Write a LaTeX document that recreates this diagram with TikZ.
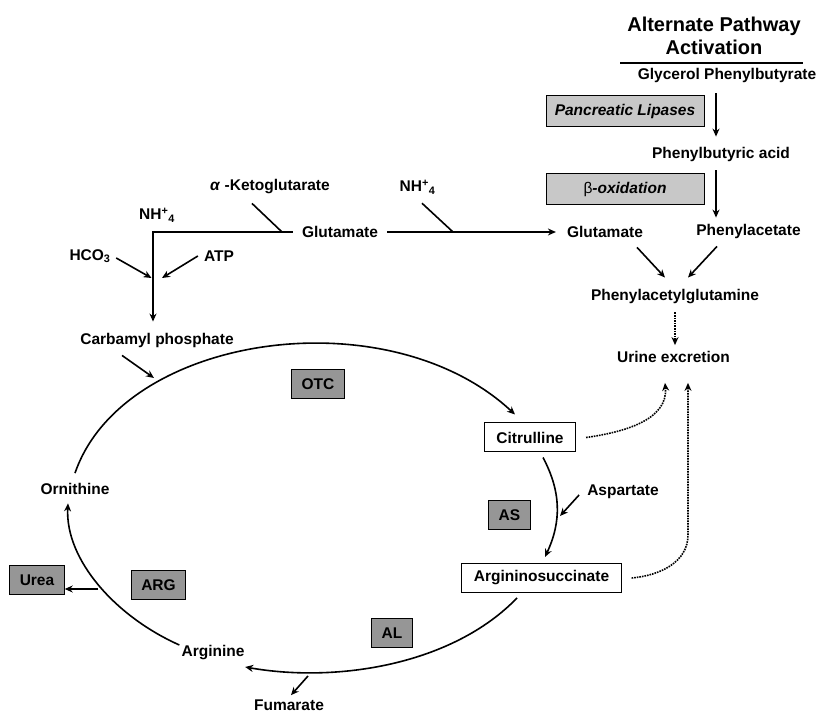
\documentclass[tikz,border=0pt]{standalone}
\usepackage{fontspec}
\setmainfont{Liberation Sans}
\usetikzlibrary{arrows.meta}
\definecolor{enzgray}{RGB}{150,150,150}
\definecolor{druggray}{RGB}{200,200,200}
\tikzset{
  metab/.style={inner sep=2pt},
  enzyme/.style={draw, fill=enzgray, line width=1pt, inner xsep=10pt, minimum height=29pt},
  product/.style={draw, fill=white, line width=1pt, inner xsep=12pt, minimum height=29pt},
  drug/.style={draw, fill=druggray, line width=1pt, minimum width=158pt, minimum height=31pt},
  flow/.style={->, line width=1.6pt},
  excr/.style={->, line width=1.6pt, densely dotted},
}

\begin{document}
\begin{tikzpicture}
[>={Stealth[length=8pt,width=7pt]}, x=1pt, y=1pt, every node/.style={font=\bfseries\fontsize{15.5}{18}\selectfont}]
\useasboundingbox (0,0) rectangle (819,715);
\node[align=center, font=\bfseries\fontsize{20}{23}\selectfont] (title) at (714,679) {Alternate Pathway\\Activation};
\draw[line width=1.5pt] (620,652) -- (803,652);
\node[metab] (glyc) at (727,640) {Glycerol Phenylbutyrate};
\node[drug] (lipase) at (625,603.5) {\textit{Pancreatic Lipases}};
\node[metab] (pba) at (721,561) {Phenylbutyric acid};
\node[drug] (betaox) at (625,525.5) {{\mdseries β}\textit{-oxidation}};
\node[metab] (pacet) at (748.5,484) {Phenylacetate};
\node[metab] (glu2) at (605,483) {Glutamate};
\node[metab] (pag) at (675,418) {Phenylacetylglutamine};
\node[metab] (urine) at (673.5,358) {Urine excretion};
\coordinate (axis) at (716,0);

\node[metab] (akg) at (270,528) {\textit{α} -Ketoglutarate};
\node[metab] (nh4a) at (157,500) {NH\textsuperscript{+}\textsubscript{4}};
\node[metab] (glu1) at (340,483) {Glutamate};
\node[metab] (nh4b) at (417.5,528) {NH\textsuperscript{+}\textsubscript{4}};
\node[metab] (hco3) at (90,459) {HCO\textsubscript{3}};
\node[metab] (atp) at (219,459) {ATP};
\node[metab] (carb) at (157,375) {Carbamyl phosphate};
\coordinate (corner) at (153,483);
\coordinate (akgjoin) at (282,483);
\coordinate (nhjoin) at (453,483);
\coordinate (feed) at (153,437);

\node[enzyme] (otc) at (318,331) {OTC};
\node[product] (cit) at (530,277.5) {Citrulline};
\node[enzyme] (as) at (509.5,200) {AS};
\node[metab] (asp) at (623,223) {Aspartate};
\node[product] (args) at (541.5,137) {Argininosuccinate};
\node[enzyme] (al) at (392,82) {AL};
\node[metab] (arg) at (213,62) {Arginine};
\node[metab] (fum) at (289,10) {Fumarate};
\node[enzyme] (argase) at (158.5,130) {ARG};
\node[enzyme] (urea) at (37,134.5) {Urea};
\node[metab] (orn) at (75,226) {Ornithine};
\coordinate (cpin) at (154,337);
\coordinate (aspin) at (560,199);
\coordinate (fumsrc) at (308,39);
\coordinate (ureasrc) at (98,126);

\draw[flow, shorten <=9pt, shorten >=8pt] (glyc.south -| axis) -- (pba.north -| axis);
\draw[flow, shorten <=7pt, shorten >=4pt] (pba.south -| axis) -- (pacet.north -| axis);
\draw[flow] ([xshift=32pt,yshift=-7.5pt]glu2.south) -- ([xshift=-10pt,yshift=10pt]pag.north);
\draw[flow] ([xshift=-31.5pt,yshift=-6pt]pacet.south) -- ([xshift=13pt,yshift=10pt]pag.north);
\draw[excr, shorten <=6pt, shorten >=4pt] (pag.south) -- (pag.south |- urine.north);

\draw[line width=1.6pt] ([xshift=-18pt,yshift=-7pt]akg.south) -- (akgjoin);
\draw[line width=1.6pt] ([xshift=4.5pt,yshift=-7pt]nh4b.south) -- (nhjoin);
\draw[flow, shorten <=7pt, shorten >=9pt] (glu1.west) -- (corner) -- (carb.north -| corner);
\draw[flow, shorten <=7pt, shorten >=9pt] (glu1.east) -- (glu2.west);
\draw[flow, shorten <=4pt] (hco3.east) -- ([xshift=-1.5pt]feed);
\draw[flow] ([xshift=-4pt]atp.west) -- ([xshift=9pt]feed);
\draw[flow] ([xshift=-35pt,yshift=-6pt]carb.south) -- (cpin);

\draw[flow] ([yshift=8pt]orn.north) to[out=71, in=137, out looseness=0.85] ([xshift=-15pt,yshift=8pt]cit.north);
\draw[flow] ([xshift=13pt,yshift=-5pt]cit.south) to[out=-62, in=65] ([xshift=3.5pt,yshift=6pt]args.north);
\draw[flow] ([xshift=-6pt,yshift=-3pt]asp.west) -- (aspin);
\draw[flow] ([xshift=-24.5pt,yshift=-5pt]args.south) to[out=-134, in=-10, looseness=0.85] ([xshift=-1.5pt,yshift=-14pt]arg.east);
\draw[flow, shorten >=3pt] (fumsrc) -- (fum.north);
\draw[flow] ([yshift=8pt]arg.west) to[out=156, in=-93, in looseness=0.8] ([xshift=-7pt,yshift=-6.5pt]orn.south);
\draw[flow] (ureasrc) -- (ureasrc -| urea.east);

\draw[excr] ([xshift=10pt]cit.east) to[out=8, in=-85] ([xshift=-8.5pt,yshift=-18pt]urine.south);
\draw[excr] ([xshift=10pt]args.east) to[out=5, in=-90] ([xshift=14.5pt,yshift=-170pt]urine.south) -- ([xshift=14.5pt,yshift=-18pt]urine.south);
\end{tikzpicture}
\end{document}
